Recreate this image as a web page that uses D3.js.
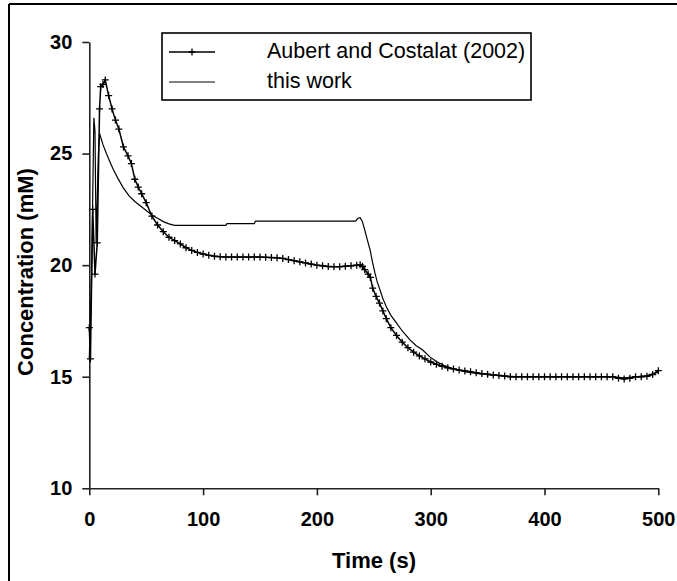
<!DOCTYPE html>
<html>
<head>
<meta charset="utf-8">
<script src="https://cdn.jsdelivr.net/npm/d3@7/dist/d3.min.js"></script>
<style>
  html, body { margin: 0; padding: 0; background: #fff; }
  svg { display: block; }
  text { font-family: "Liberation Sans", Arial, sans-serif; }
</style>
</head>
<body>
<svg id="chart" width="677" height="581"></svg>
<script>
// Aubert and Costalat (2002): time (s) and concentration (mM)
const aubertTime = [0, 1, 3, 5, 7, 9, 10, 12, 14, 17, 20, 23, 26, 30, 34, 37, 40, 43, 46, 50,
  55, 60, 65, 70, 75, 80, 85, 90, 95, 100, 105, 110, 115, 120, 125, 130, 135, 140, 145, 150,
  155, 160, 165, 170, 175, 180, 185, 190, 195, 200, 205, 210, 215, 220, 225, 230, 235, 238, 240, 242,
  245, 247, 249, 252, 255, 258, 261, 265, 270, 275, 280, 285, 290, 295, 300, 305, 310, 315, 320, 325,
  330, 335, 340, 345, 350, 355, 360, 365, 370, 375, 380, 385, 390, 395, 400, 405, 410, 415, 420, 425,
  430, 435, 440, 445, 450, 455, 460, 465, 470, 475, 480, 485, 490, 495, 500];
const aubertConc = [17.2, 15.8, 22.5, 19.6, 21.0, 27.0, 28.0, 28.1, 28.3, 27.6, 27.0, 26.5, 26.1, 25.3, 24.9, 24.55, 23.85, 23.5, 23.2, 22.8,
  22.2, 21.8, 21.5, 21.25, 21.1, 20.95, 20.78, 20.66, 20.57, 20.5, 20.44, 20.4, 20.38, 20.36, 20.36, 20.36, 20.36, 20.36, 20.36, 20.36,
  20.35, 20.34, 20.33, 20.3, 20.25, 20.2, 20.15, 20.1, 20.05, 20.0, 19.97, 19.94, 19.93, 19.93, 19.95, 19.97, 20.0, 20.02, 19.95, 19.8,
  19.6, 19.45, 18.97, 18.6, 18.3, 17.95, 17.6, 17.2, 16.85, 16.55, 16.3, 16.1, 15.93, 15.8, 15.66, 15.56, 15.47, 15.4, 15.35, 15.3,
  15.26, 15.22, 15.18, 15.14, 15.11, 15.08, 15.06, 15.03, 15.0, 15.0, 15.0, 15.0, 15.0, 15.0, 15.0, 15.0, 15.0, 15.0, 15.0, 15.0,
  15.0, 15.0, 15.0, 15.0, 15.0, 15.0, 15.0, 14.93, 14.9, 14.93, 15.0, 15.0, 15.02, 15.1, 15.27];

// this work: time (s) and concentration (mM)
const workTime = [0, 2, 4, 5, 6, 8, 9, 12, 15, 18, 21, 25, 30, 35, 40, 45, 50, 55, 60, 65,
  70, 75, 120, 121, 145, 146, 234, 236, 238, 240, 242, 244.5, 246.7, 249, 251, 253, 255.4, 258, 261, 265,
  270, 275, 281.8, 287, 293, 299, 305, 312, 320, 330, 340, 350, 360, 370, 380, 460, 470, 480, 490, 500];
const workConc = [15.8, 19.5, 26.6, 26.0, 21.0, 25.0, 25.9, 25.4, 25.0, 24.65, 24.3, 23.9, 23.45, 23.1, 22.85, 22.65, 22.45, 22.25, 22.1, 21.95,
  21.85, 21.78, 21.78, 21.86, 21.86, 21.97, 21.97, 22.1, 22.13, 21.95, 21.58, 21.1, 20.69, 20.1, 19.65, 19.25, 18.9, 18.5, 18.14, 17.75,
  17.4, 17.05, 16.65, 16.4, 16.2, 15.9, 15.68, 15.5, 15.35, 15.23, 15.15, 15.09, 15.05, 15.02, 15.0, 15.0, 14.95, 15.0, 15.05, 15.2];

const xTicks = [0, 100, 200, 300, 400, 500];
const yTicks = [10, 15, 20, 25, 30];
const seriesNames = ["Aubert and Costalat (2002)", "this work"];

const svg = d3.select("#chart");

// outer frame (left and top edges)
svg.append("line").attr("x1", 9).attr("y1", 4).attr("x2", 9).attr("y2", 581)
  .attr("stroke", "#000").attr("stroke-width", 2);
svg.append("line").attr("x1", 9).attr("y1", 4).attr("x2", 677).attr("y2", 4)
  .attr("stroke", "#000").attr("stroke-width", 2);

const x = d3.scaleLinear().domain([0, 500]).range([89.3, 658.3]);
const y = d3.scaleLinear().domain([10, 30]).range([488.3, 42]);

// axes
const xAxis = svg.append("g").attr("transform", `translate(0,${y(10)})`)
  .call(d3.axisBottom(x).tickValues(xTicks).tickSize(7).tickSizeOuter(0).tickPadding(17));
const yAxis = svg.append("g").attr("transform", `translate(${x(0)},0)`)
  .call(d3.axisLeft(y).tickValues(yTicks).tickSize(7).tickSizeOuter(0).tickPadding(10));
[xAxis, yAxis].forEach(g => {
  g.select(".domain").attr("stroke", "#222").attr("stroke-width", 1.6);
  g.selectAll(".tick line").attr("stroke", "#222").attr("stroke-width", 1.6);
  g.selectAll(".tick text").attr("fill", "#000").style("font-size", "20px")
    .style("font-weight", "bold").style("font-family", "'Liberation Sans', Arial, sans-serif");
});

// axis titles
svg.append("text").attr("x", 374).attr("y", 568).attr("text-anchor", "middle")
  .style("font-size", "22px").style("font-weight", "bold").text("Time (s)");
svg.append("text").attr("transform", "translate(33,272) rotate(-90)").attr("text-anchor", "middle")
  .style("font-size", "22px").style("font-weight", "bold").text("Concentration (mM)");

const line = d3.line().x(d => x(d[0])).y(d => y(d[1]));
const aubert = aubertTime.map((t, i) => [t, aubertConc[i]]);
const work = workTime.map((t, i) => [t, workConc[i]]);

// this work
svg.append("path").datum(work).attr("d", line)
  .attr("fill", "none").attr("stroke", "#000").attr("stroke-width", 1.2);

// Aubert and Costalat with plus markers
svg.append("path").datum(aubert).attr("d", line)
  .attr("fill", "none").attr("stroke", "#000").attr("stroke-width", 1.5);
const plus = "M-3.5,0H3.5M0,-3.5V3.5";
svg.append("g").selectAll("path").data(aubert).join("path")
  .attr("transform", d => `translate(${x(d[0])},${y(d[1])})`)
  .attr("d", plus).attr("stroke", "#000").attr("stroke-width", 1.3).attr("fill", "none");

// legend
const lg = svg.append("g");
lg.append("rect").attr("x", 162).attr("y", 33).attr("width", 369).attr("height", 67)
  .attr("fill", "#fff").attr("stroke", "#000").attr("stroke-width", 1.6);
const rows = [52, 82];
rows.forEach((ry, i) => {
  lg.append("line").attr("x1", 169).attr("x2", 215).attr("y1", ry).attr("y2", ry)
    .attr("stroke", "#000").attr("stroke-width", i === 0 ? 1.5 : 1.2);
  if (i === 0) {
    lg.append("path").attr("transform", `translate(192,${ry})`).attr("d", plus)
      .attr("stroke", "#000").attr("stroke-width", 1.3);
  }
  lg.append("text").attr("x", 267).attr("y", ry + 5.5)
    .style("font-size", "21.5px").text(seriesNames[i]);
});
</script>
</body>
</html>
